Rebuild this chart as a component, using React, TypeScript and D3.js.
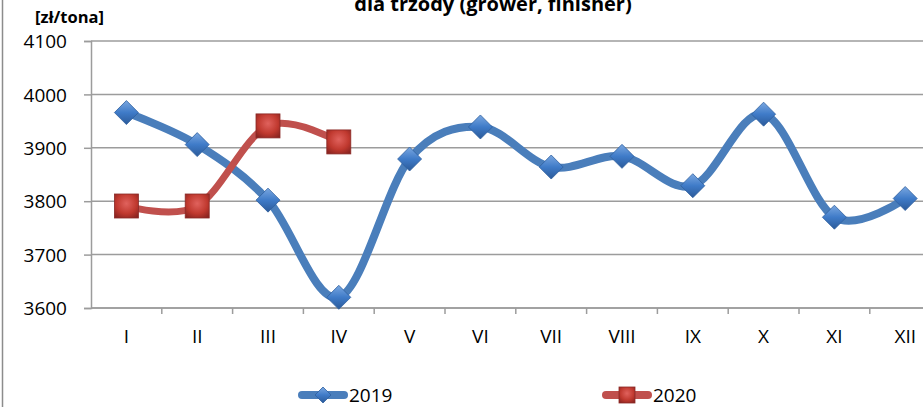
import { useEffect, useRef } from "react";
import * as d3 from "d3";

const months = ["I", "II", "III", "IV", "V", "VI", "VII", "VIII", "IX", "X", "XI", "XII"];
const values2019 = [3966, 3906, 3802, 3620, 3879, 3939, 3864, 3884, 3829, 3963, 3770, 3805];
const values2020 = [3791, 3791, 3941, 3911];
const yTicks = [3600, 3700, 3800, 3900, 4000, 4100];
const seriesNames = ["2019", "2020"];

const W = 923;
const H = 407;
const FONT = "'Open Sans', 'Liberation Sans', sans-serif";

const App: React.FC = () => {
  const ref = useRef<SVGSVGElement>(null);

  useEffect(() => {
    const svg = d3.select(ref.current);
    svg.selectAll("*").remove();

    const left = 91;
    const step = 70.8;
    const top = 41;
    const bottom = 308;

    const x = d3
      .scaleBand<string>()
      .domain(months)
      .range([left, left + step * months.length]);
    const y = d3.scaleLinear().domain([3600, 4100]).range([bottom, top]);
    const cx = (m: string) => x(m)! + x.bandwidth() / 2;

    // gradients for the bevelled markers
    const defs = svg.append("defs");
    const blueGrad = defs
      .append("linearGradient")
      .attr("id", "blueGrad")
      .attr("x1", "0")
      .attr("y1", "0")
      .attr("x2", "0")
      .attr("y2", "1");
    blueGrad.append("stop").attr("offset", "0").attr("stop-color", "#7aa7e0");
    blueGrad.append("stop").attr("offset", "0.5").attr("stop-color", "#3f7bc8");
    blueGrad.append("stop").attr("offset", "1").attr("stop-color", "#2b5a99");
    const redGrad = defs
      .append("radialGradient")
      .attr("id", "redGrad")
      .attr("cx", "0.5")
      .attr("cy", "0.4")
      .attr("r", "0.7");
    redGrad.append("stop").attr("offset", "0").attr("stop-color", "#e0625d");
    redGrad.append("stop").attr("offset", "0.6").attr("stop-color", "#c0392f");
    redGrad.append("stop").attr("offset", "1").attr("stop-color", "#8a2420");

    // chart border on the left
    svg
      .append("line")
      .attr("x1", 2.5)
      .attr("x2", 2.5)
      .attr("y1", 0)
      .attr("y2", H)
      .attr("stroke", "#8c8c8c")
      .attr("stroke-width", 1.5);

    // title (partly cut at the top, as in the source image)
    svg
      .append("text")
      .attr("x", 493)
      .attr("y", 11)
      .attr("text-anchor", "middle")
      .attr("font-family", FONT)
      .attr("font-weight", "bold")
      .attr("font-size", 20)
      .text("dla trzody (grower, finisher)");

    // unit label
    svg
      .append("text")
      .attr("x", 35)
      .attr("y", 23)
      .attr("font-family", FONT)
      .attr("font-weight", "bold")
      .attr("font-size", 16.5)
      .text("[zł/tona]");

    // gridlines
    svg
      .append("g")
      .selectAll("line")
      .data(yTicks)
      .enter()
      .append("line")
      .attr("x1", left)
      .attr("x2", W)
      .attr("y1", (d) => y(d))
      .attr("y2", (d) => y(d))
      .attr("stroke", "#9c9c9c")
      .attr("stroke-width", 1.5);

    // y axis
    const yAxis = svg
      .append("g")
      .attr("transform", `translate(${left},0)`)
      .call(d3.axisLeft(y).tickValues(yTicks).tickSize(7).tickPadding(17).tickFormat(d3.format("d")));
    yAxis.select(".domain").attr("stroke", "#9c9c9c").attr("stroke-width", 1.5);
    yAxis.selectAll(".tick line").attr("stroke", "#9c9c9c").attr("stroke-width", 1.5);
    yAxis
      .selectAll(".tick text")
      .attr("font-family", FONT)
      .attr("font-size", 19)
      .attr("fill", "#000")
      .attr("dy", "0.35em");

    // x axis with ticks between categories
    const xAxis = svg
      .append("g")
      .attr("transform", `translate(0,${bottom})`)
      .call(d3.axisBottom(x).tickSize(0).tickPadding(22));
    xAxis.select(".domain").remove();
    xAxis
      .selectAll(".tick text")
      .attr("font-family", FONT)
      .attr("font-size", 19)
      .attr("fill", "#000");
    svg
      .append("line")
      .attr("x1", left)
      .attr("x2", W)
      .attr("y1", bottom)
      .attr("y2", bottom)
      .attr("stroke", "#9c9c9c")
      .attr("stroke-width", 1.5);
    svg
      .append("g")
      .selectAll("line")
      .data(months)
      .enter()
      .append("line")
      .attr("x1", (m) => x(m)! + x.bandwidth())
      .attr("x2", (m) => x(m)! + x.bandwidth())
      .attr("y1", bottom)
      .attr("y2", bottom + 6)
      .attr("stroke", "#9c9c9c")
      .attr("stroke-width", 1.5);

    const line = d3
      .line<number>()
      .x((_, i) => cx(months[i]))
      .y((d) => y(d))
      .curve(d3.curveCardinal.tension(0));

    // 2019 series
    svg
      .append("path")
      .attr("d", line(values2019))
      .attr("fill", "none")
      .attr("stroke", "#4a7ebb")
      .attr("stroke-width", 8)
      .attr("stroke-linejoin", "round");

    // 2020 series
    svg
      .append("path")
      .attr("d", line(values2020))
      .attr("fill", "none")
      .attr("stroke", "#c0504d")
      .attr("stroke-width", 7)
      .attr("stroke-linejoin", "round");

    const diamond = (s: d3.Selection<any, any, any, any>, px: number, py: number, r: number) =>
      s
        .append("path")
        .attr("d", `M${px},${py - r}L${px + r},${py}L${px},${py + r}L${px - r},${py}Z`)
        .attr("fill", "url(#blueGrad)")
        .attr("stroke", "#2f5f9e")
        .attr("stroke-width", 0.8);
    const square = (s: d3.Selection<any, any, any, any>, px: number, py: number, r: number) =>
      s
        .append("rect")
        .attr("x", px - r)
        .attr("y", py - r)
        .attr("width", 2 * r)
        .attr("height", 2 * r)
        .attr("fill", "url(#redGrad)")
        .attr("stroke", "#8a2a27")
        .attr("stroke-width", 0.8);

    const markers = svg.append("g");
    values2019.forEach((v, i) => diamond(markers, cx(months[i]), y(v), 12));
    values2020.forEach((v, i) => square(markers, cx(months[i]), y(v), 12));

    // legend
    const legend = svg.append("g");
    const legendItems = [
      { name: seriesNames[0], x0: 298, color: "#4a7ebb" },
      { name: seriesNames[1], x0: 602, color: "#c0504d" },
    ];
    const ly = 395;
    legendItems.forEach((it, i) => {
      legend
        .append("line")
        .attr("x1", it.x0 + 4)
        .attr("x2", it.x0 + 46)
        .attr("y1", ly)
        .attr("y2", ly)
        .attr("stroke", it.color)
        .attr("stroke-width", 8)
        .attr("stroke-linecap", "round");
      if (i === 0) diamond(legend, it.x0 + 25, ly, 8);
      else square(legend, it.x0 + 25, ly, 8);
      legend
        .append("text")
        .attr("x", it.x0 + 51)
        .attr("y", ly)
        .attr("dy", "0.35em")
        .attr("font-family", FONT)
        .attr("font-size", 19)
        .text(it.name);
    });
  }, []);

  return (
    <svg
      ref={ref}
      width={W}
      height={H}
      style={{ position: "absolute", left: 0, top: 0, background: "#fff" }}
    />
  );
};

export default App;
